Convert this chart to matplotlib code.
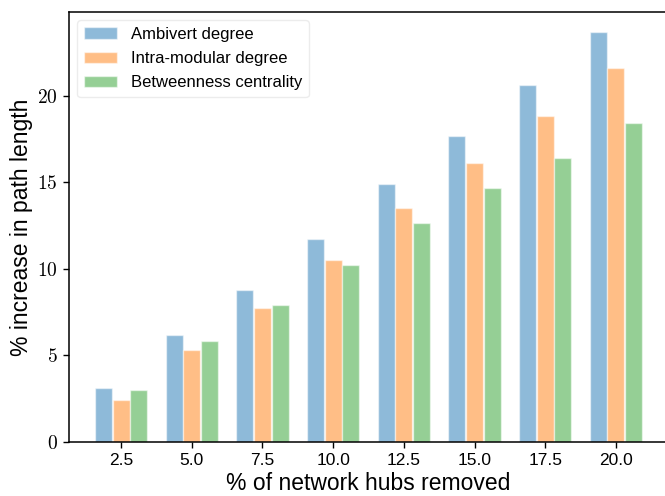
import numpy as np
import matplotlib
matplotlib.use("Agg")
import matplotlib.pyplot as plt

plt.rcParams["font.family"] = ["Liberation Sans", "DejaVu Sans"]
plt.rcParams["mathtext.fontset"] = "cm"

hubs_removed = [2.5, 5.0, 7.5, 10.0, 12.5, 15.0, 17.5, 20.0]
ambivert = [3.12, 6.20, 8.77, 11.73, 14.93, 17.65, 20.60, 23.66]
intra_modular = [2.41, 5.32, 7.73, 10.50, 13.54, 16.13, 18.83, 21.58]
betweenness = [3.02, 5.86, 7.90, 10.21, 12.68, 14.68, 16.43, 18.44]
y_ticks = [0, 5, 10, 15, 20]

series = [
    ("Ambivert degree", ambivert, "tab:blue"),
    ("Intra-modular degree", intra_modular, "tab:orange"),
    ("Betweenness centrality", betweenness, "tab:green"),
]

fig = plt.figure(figsize=(6.65, 4.96), dpi=100)
ax = fig.add_axes([0.1038, 0.1089, 0.9007, 0.8669])

x = np.array(hubs_removed)
step = 0.625
for i, (name, vals, col) in enumerate(series):
    ax.bar(x + (i - 1) * step, vals, width=0.6, color=col, alpha=0.5,
           edgecolor="white", linewidth=1.0, label=name)

ax.set_xlim(0.66, 21.84)
ax.set_xticks(hubs_removed)
ax.set_xticklabels([f"{v:.1f}" for v in hubs_removed], fontsize=12.5)
ax.set_yticks(y_ticks)
ax.set_yticklabels([rf"${v}$" for v in y_ticks], fontsize=14)
ax.tick_params(width=1.0, length=4.5)
for s in ax.spines.values():
    s.set_linewidth(1.1)
ax.set_xlabel("% of network hubs removed", fontsize=16.5, labelpad=3)
ax.set_ylabel("% increase in path length", fontsize=16.5, labelpad=3)

ax.legend(loc="upper left", fontsize=12, handlelength=2.0,
          labelspacing=0.55, framealpha=0.8, edgecolor="#e8e8e8")

fig.savefig("out.png", dpi=100)
